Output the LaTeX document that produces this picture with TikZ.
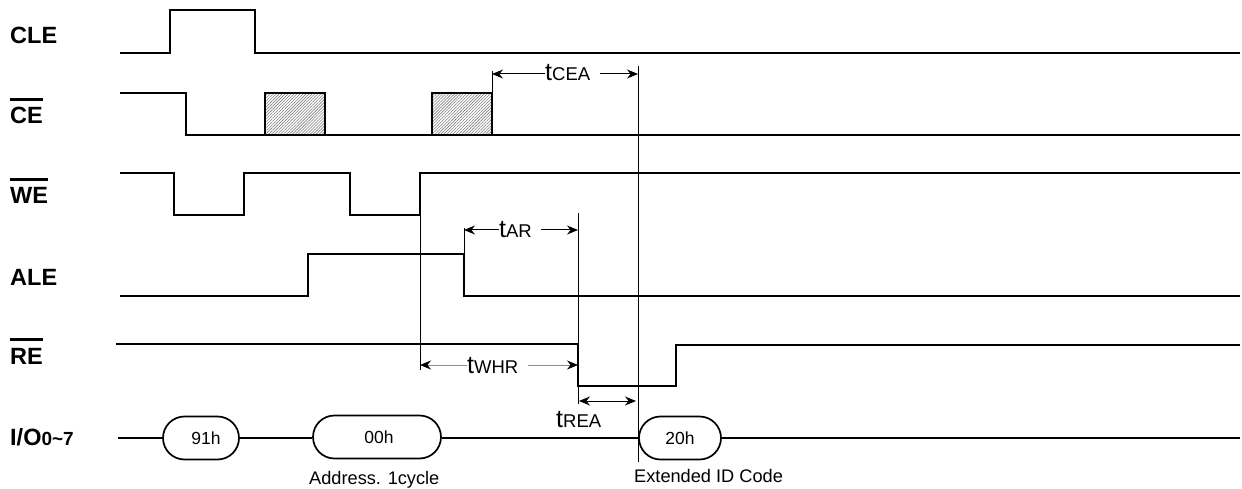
\documentclass[tikz,border=0pt]{standalone}
\usepackage{fontspec}
\setmainfont{Liberation Sans}
\usetikzlibrary{arrows.meta,patterns.meta,shapes.misc}
\newcommand{\timename}[1]{{\fontsize{25}{25}\selectfont t}{\fontsize{18.5}{25}\selectfont #1}}
\tikzset{
    signallabel/.style={anchor=base west, inner sep=0pt, font=\fontsize{23.5}{26}\selectfont\bfseries},
    signalwire/.style={line width=2.2pt, miter limit=2},
    signalbar/.style={line width=2.6pt},
    hatchbox/.style={line width=2.2pt, pattern={Lines[angle=45, distance=2.1pt, line width=0.6pt]}, pattern color=black!50},
    timeline/.style={line width=1pt},
    timearrow/.style={{Stealth[length=11pt, width=9pt]}-, line width=1pt},
    timearrowpale/.style={{Stealth[length=11pt, width=9pt, black]}-, line width=0.7pt, draw=black!45},
    timearrowboth/.style={{Stealth[length=11pt, width=9pt]}-{Stealth[length=11pt, width=9pt]}, line width=1pt},
    timetext/.style={inner sep=0pt, anchor=base west},
    datapill/.style={draw, rounded rectangle, line width=1.7pt, inner sep=0pt, font=\fontsize{17.5}{20}\selectfont},
    datanote/.style={inner sep=0pt, anchor=base west, font=\fontsize{18.2}{20}\selectfont}
}
\begin{document}
\begin{tikzpicture}[x=1pt, y=-1pt]
    \useasboundingbox (0,0) rectangle (1242,489);
    % signal names
    \node[signallabel] (cle) at (10,44) {CLE};
    \node[signallabel] (ce) at (10,124) {CE};
    \node[signallabel] (we) at (10,204) {WE};
    \node[signallabel] (ale) at (10,285) {ALE};
    \node[signallabel] (re) at (10,364) {RE};
    \node[signallabel] (io) at (10,445) {I/O{\fontsize{19}{26}\selectfont 0\char`\~7}};
    \draw[signalbar] ([yshift=8pt]ce.north west) -- ([yshift=8pt]ce.north east);
    \draw[signalbar] ([yshift=8pt]we.north west) -- ([yshift=8pt]we.north east);
    \draw[signalbar] ([yshift=8pt]re.north west) -- ([yshift=8pt]re.north east);
    % waveforms
    \draw[hatchbox] (265,93) rectangle (325,135);
    \draw[hatchbox] (432,93) rectangle (492,135);
    \draw[signalwire] (120,53) -- (170,53) -- (170,10) -- (255,10) -- (255,53) -- (1240,53);
    \draw[signalwire] (120,93) -- (186,93) -- (186,135) -- (1240,135);
    \draw[signalwire] (120,173) -- (174,173) -- (174,215) -- (244,215) -- (244,173) -- (350,173) -- (350,215) -- (420,215) -- (420,173) -- (1240,173);
    \draw[signalwire] (120,296) -- (308,296) -- (308,254) -- (464,254) -- (464,296) -- (1240,296);
    \draw[signalwire] (116,344) -- (578,344) -- (578,386) -- (676,386) -- (676,345) -- (1240,345);
    % data bus
    \coordinate (iostart) at (118,438);
    \coordinate (ioend) at (1240,438);
    \node[datapill, minimum width=76pt, minimum height=43pt] (d91) at (201,438) {\hspace*{10pt}91h};
    \node[datapill, minimum width=128pt, minimum height=43pt] (d00) at (377,437) {\hspace*{4pt}00h};
    \node[datapill, minimum width=82pt, minimum height=43pt] (d20) at (680,438) {20h};
    \draw[signalwire] (iostart) -- (d91.west);
    \draw[signalwire] (d91.east) -- (d00.west |- d91.east);
    \draw[signalwire] (d00.east |- d91.east) -- (d20.west);
    \draw[signalwire] (d20.east) -- (ioend);
    \node[datanote] (addrnote) at (309,484) {Address. 1cycle};
    \node[datanote] (extnote) at (634,482) {Extended ID Code};
    % reference lines
    \coordinate (ceatop) at (492,71);
    \coordinate (ceabot) at (492,135);
    \coordinate (readtop) at (638,66);
    \coordinate (readbot) at (638,462);
    \coordinate (whrtop) at (420,215);
    \coordinate (whrbot) at (420,370);
    \coordinate (artop) at (464,228);
    \coordinate (arbot) at (464,254);
    \coordinate (retop) at (578,213);
    \coordinate (rebot) at (578,404);
    \draw[timeline] (ceatop) -- (ceabot);
    \draw[timeline] (readtop) -- (readbot);
    \draw[timeline] (whrtop) -- (whrbot);
    \draw[timeline] (artop) -- (arbot);
    \draw[timeline] (retop) -- (rebot);
    % timing names and arrows
    \node[timetext] (tcea) at (545,81) {\timename{CEA}};
    \node[timetext] (tar) at (499,237) {\timename{AR}};
    \node[timetext] (twhr) at (467,373) {\timename{WHR}};
    \node[timetext] (trea) at (556,427) {\timename{REA}};
    \draw[timearrow] (ceatop |- 0,74) -- (tcea.west |- 0,74);
    \draw[timearrow] (readtop |- 0,74) -- (600,74);
    \draw[timearrow] (artop |- 0,230) -- (tar.west |- 0,230);
    \draw[timearrow] (retop |- 0,230) -- (541,230);
    \draw[timearrowpale] (whrtop |- 0,365) -- (twhr.west |- 0,365);
    \draw[timearrowpale] (retop |- 0,365) -- (528,365);
    \draw[timearrowboth] ([xshift=1pt]retop |- 0,401) -- ([xshift=-2pt]readtop |- 0,401);
\end{tikzpicture}
\end{document}
